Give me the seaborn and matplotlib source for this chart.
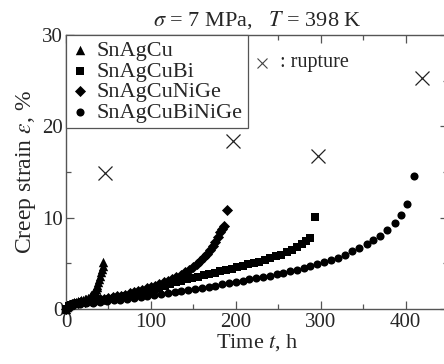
import matplotlib
matplotlib.use("Agg")
import matplotlib.pyplot as plt
import seaborn as sns
from matplotlib.ticker import MultipleLocator

# creep curves (time in h, strain in %)
sac_t = [0, 1, 2, 3, 4, 6, 8, 10, 12, 14, 16, 18, 20, 22, 24, 26, 28, 30, 31, 32,
         33, 34, 35, 36, 37, 38, 39, 40, 41, 42, 43, 44]
sac_e = [0, 0.2, 0.32, 0.42, 0.5, 0.6, 0.68, 0.75, 0.8, 0.85, 0.9, 0.95, 1.0, 1.06,
         1.13, 1.22, 1.33, 1.48, 1.58, 1.7, 1.84, 2.0, 2.18, 2.4, 2.65, 2.95, 3.3,
         3.65, 4.0, 4.35, 4.7, 5.1]

sacbi_t = [0, 3, 6, 10, 15, 20, 26, 32, 38, 45, 52, 58, 65, 71, 78, 84, 91, 97, 104,
           110, 117, 123, 130, 136, 143, 149, 156, 162, 169, 175, 182, 188, 195, 201,
           208, 214, 221, 227, 234, 240, 247, 253, 260, 266, 272, 278, 283, 288, 293]
sacbi_e = [0, 0.3, 0.45, 0.58, 0.68, 0.75, 0.82, 0.88, 0.95, 1.02, 1.1, 1.18, 1.3,
           1.42, 1.56, 1.7, 1.85, 2.0, 2.18, 2.35, 2.55, 2.73, 2.92, 3.08, 3.25, 3.4,
           3.55, 3.7, 3.84, 3.98, 4.12, 4.27, 4.42, 4.57, 4.73, 4.88, 5.05, 5.2, 5.38,
           5.55, 5.75, 5.95, 6.2, 6.45, 6.75, 7.1, 7.4, 7.8, 10.1]

sacnige_t = [0, 2, 4, 7, 10, 14, 18, 22, 26, 30, 35, 40, 45, 50, 55, 60, 65, 70, 75,
             80, 85, 90, 95, 100, 105, 110, 115, 120, 125, 130, 135, 140, 145, 150,
             154, 158, 162, 166, 170, 173, 176, 179, 182, 184, 186, 190]
sacnige_e = [0, 0.25, 0.38, 0.5, 0.58, 0.66, 0.73, 0.8, 0.86, 0.92, 0.99, 1.06, 1.13,
             1.2, 1.28, 1.37, 1.47, 1.58, 1.7, 1.83, 1.96, 2.1, 2.25, 2.4, 2.56, 2.73,
             2.91, 3.1, 3.3, 3.52, 3.76, 4.02, 4.3, 4.62, 4.93, 5.27, 5.65, 6.05, 6.5,
             6.9, 7.35, 7.85, 8.4, 8.75, 9.1, 10.8]

sacbinige_t = [0, 4, 8, 16, 24, 32, 40, 48, 56, 64, 72, 80, 88, 96, 104, 112, 120,
               128, 136, 144, 152, 160, 168, 176, 184, 192, 200, 208, 216, 224, 232,
               240, 248, 256, 264, 272, 280, 288, 296, 304, 312, 320, 329, 337, 345,
               354, 362, 370, 378, 387, 395, 402, 410]
sacbinige_e = [0, 0.3, 0.42, 0.55, 0.63, 0.7, 0.78, 0.86, 0.95, 1.04, 1.13, 1.22,
               1.32, 1.42, 1.52, 1.62, 1.73, 1.84, 1.95, 2.06, 2.17, 2.28, 2.4, 2.52,
               2.7, 2.83, 2.96, 3.1, 3.24, 3.38, 3.52, 3.66, 3.8, 3.96, 4.13, 4.32,
               4.52, 4.7, 4.9, 5.1, 5.35, 5.62, 5.95, 6.3, 6.72, 7.15, 7.56, 8.0, 8.6,
               9.4, 10.3, 11.5, 14.6]

rupture_t = [46, 197, 297, 419]
rupture_e = [14.9, 18.4, 16.8, 25.3]

sns.set_style("ticks")
plt.rcParams["font.family"] = ["Liberation Serif", "DejaVu Serif"]
plt.rcParams["mathtext.fontset"] = "stix"

fig = plt.figure(figsize=(4.44, 3.64), dpi=100)
ax = fig.add_axes([66 / 444, 55 / 364, 382 / 444, 274 / 364])

# series: (times, strains, label, marker, size)
series = [
    (sac_t, sac_e, "SnAgCu", "^", 46),
    (sacbi_t, sacbi_e, "SnAgCuBi", "s", 34),
    (sacnige_t, sacnige_e, "SnAgCuNiGe", "D", 32),
    (sacbinige_t, sacbinige_e, "SnAgCuBiNiGe", "o", 34),
]
for t, e, lab, m, s in series:
    sns.scatterplot(x=t, y=e, marker=m, s=s, color="black", linewidth=0,
                    label=lab, ax=ax, zorder=3, clip_on=False)

ax.plot(rupture_t, rupture_e, linestyle="none", marker="x", markersize=10,
        markeredgewidth=0.9, color="#222222")

ax.set_xlim(0, 450)
ax.set_ylim(0, 30)
ax.xaxis.set_major_locator(MultipleLocator(100))
ax.xaxis.set_minor_locator(MultipleLocator(50))
ax.yaxis.set_major_locator(MultipleLocator(10))
ax.yaxis.set_minor_locator(MultipleLocator(5))
ax.tick_params(which="both", direction="in", top=True, right=True,
               color="#555555", labelsize=15)
ax.tick_params(axis="x", pad=3)
ax.tick_params(axis="y", pad=2)
ax.tick_params(which="major", length=6, width=0.9)
ax.tick_params(which="minor", length=3.5, width=0.9)
for sp in ax.spines.values():
    sp.set_color("#555555")
    sp.set_linewidth(1.0)

ax.set_xlabel(r"Time $t$, h", fontsize=16, labelpad=0)
ax.set_ylabel(r"Creep strain $\varepsilon$, %", fontsize=17, labelpad=3)
ax.set_title(r"$\sigma$ = 7 MPa,   $T$ = 398 K", fontsize=16, pad=7)

leg = ax.legend(loc="upper left", bbox_to_anchor=(0, 1), borderaxespad=0,
                fontsize=16, frameon=True, fancybox=False, framealpha=1,
                edgecolor="#555555", handlelength=0.8, handletextpad=0.3,
                labelspacing=0.0, borderpad=0.25)
leg.get_frame().set_linewidth(0.9)

ax.plot([0.513], [0.898], transform=ax.transAxes, linestyle="none", marker="x",
        markersize=7, markeredgewidth=0.8, color="#444444", clip_on=False)
ax.text(0.56, 0.9, ": rupture", transform=ax.transAxes, fontsize=14.5,
        va="center", ha="left")

fig.savefig("out.png", dpi=100)
